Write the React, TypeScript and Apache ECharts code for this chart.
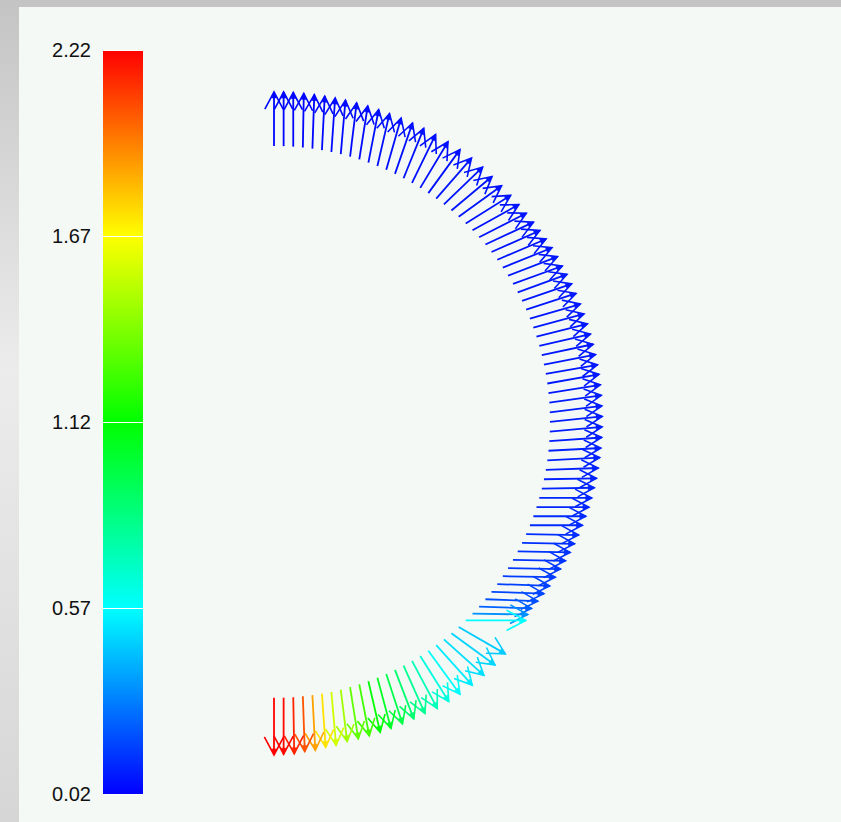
import React, { useEffect, useRef } from "react";
import * as echarts from "echarts";

// ---- colour scale (colour bar) ----
const SCALE_MIN = 0.02;
const SCALE_MAX = 2.22;
const SCALE_STEP = 0.55;
const TICK_LABELS = ["0.02", "0.57", "1.12", "1.67", "2.22"];
const COLOR_STOPS = ["#0000ff", "#00ffff", "#00ff00", "#ffff00", "#ff0000"];

// ---- vector samples along the semicircle (tail radius = 1) ----
const POSITION_DEG = [
  90, 88, 86, 84, 82, 80, 78, 76, 74, 72,
  70, 68, 66, 64, 62, 60, 58, 56, 54, 52,
  50, 48, 46, 44, 42, 40, 38, 36, 34, 32,
  30, 28, 26, 24, 22, 20, 18, 16, 14, 12,
  10, 8, 6, 4, 2, 0, -2, -4, -6, -8,
  -10, -12, -14, -16, -18, -20, -22, -24, -26, -28,
  -30, -32, -34, -36, -38, -40, -42, -44, -46, -48,
  -50, -52, -54, -56, -58, -60, -62, -64, -66, -68,
  -70, -72, -74, -76, -78, -80, -82, -84, -86, -88,
  -90,
];

const DIRECTION_DEG = [
  90, 90, 90, 89, 88, 87, 86, 85, 83, 81,
  79, 77, 74, 71, 68, 64, 59, 54, 49, 44,
  40, 36, 32, 29, 27, 25, 24, 23, 22, 21,
  20, 20, 19, 18, 16, 15, 14, 13, 12, 11,
  10, 10, 9, 8, 7, 6, 5, 4, 3, 3,
  2, 1, 1, 0, 0, 0, 0, -1, -1, -1,
  -1, -1, -1, -2, -2, -2, -2, -1, 0, -30,
  -36, -42, -48, -54, -58, -62, -66, -69, -72, -75,
  -77, -79, -81, -83, -85, -86, -87, -88, -89, -90,
  -90,
];

const ARROW_LENGTH = [
  0.196, 0.196, 0.196, 0.196, 0.196, 0.196, 0.196, 0.196, 0.196, 0.196,
  0.195, 0.195, 0.195, 0.195, 0.195, 0.195, 0.195, 0.195, 0.195, 0.195,
  0.192, 0.192, 0.192, 0.192, 0.192, 0.192, 0.192, 0.192, 0.192, 0.192,
  0.19, 0.19, 0.19, 0.19, 0.19, 0.19, 0.19, 0.19, 0.19, 0.19,
  0.19, 0.19, 0.19, 0.19, 0.19, 0.19, 0.19, 0.19, 0.19, 0.19,
  0.19, 0.19, 0.19, 0.19, 0.19, 0.19, 0.19, 0.19, 0.19, 0.19,
  0.19, 0.19, 0.19, 0.19, 0.19, 0.19, 0.19, 0.2, 0.217, 0.195,
  0.195, 0.195, 0.195, 0.195, 0.195, 0.195, 0.19, 0.19, 0.19, 0.19,
  0.19, 0.19, 0.19, 0.19, 0.195, 0.195, 0.2, 0.2, 0.205, 0.205,
  0.207,
];

const MAGNITUDE = [
  0.03, 0.03, 0.03, 0.03, 0.03, 0.04, 0.04, 0.04, 0.04, 0.04,
  0.05, 0.05, 0.05, 0.05, 0.05, 0.05, 0.05, 0.05, 0.06, 0.06,
  0.06, 0.06, 0.06, 0.06, 0.06, 0.06, 0.06, 0.06, 0.07, 0.07,
  0.07, 0.07, 0.07, 0.07, 0.07, 0.07, 0.07, 0.07, 0.07, 0.07,
  0.07, 0.07, 0.07, 0.08, 0.08, 0.08, 0.08, 0.08, 0.09, 0.09,
  0.09, 0.09, 0.1, 0.1, 0.1, 0.11, 0.11, 0.12, 0.12, 0.13,
  0.13, 0.14, 0.15, 0.16, 0.17, 0.19, 0.23, 0.33, 0.57, 0.46,
  0.48, 0.5, 0.53, 0.58, 0.64, 0.72, 0.8, 0.88, 0.96, 1.04,
  1.12, 1.26, 1.33, 1.47, 1.57, 1.73, 1.87, 2.04, 2.14, 2.2,
  2.22,
];

// ---- layout constants ----
const W = 841;
const H = 822;
const CX = 274; // pixel of data origin
const CY = 422;
const S = 276; // pixels per data unit
const X_MIN = -0.9;
const X_MAX = 2.0;
const Y_MIN = -1.45;
const Y_MAX = 1.45;

const rad = (d: number) => (d * Math.PI) / 180;

const vectorData = POSITION_DEG.map((p, i) => [
  Math.cos(rad(p)),
  Math.sin(rad(p)),
  ARROW_LENGTH[i] * Math.cos(rad(DIRECTION_DEG[i])),
  ARROW_LENGTH[i] * Math.sin(rad(DIRECTION_DEG[i])),
  MAGNITUDE[i],
]);

const gradientStops = () =>
  COLOR_STOPS.map((c, i) => ({ offset: i / (COLOR_STOPS.length - 1), color: c }));

const renderBar = (_params: any, api: any) => {
  const p0 = api.coord([api.value(0), api.value(1)]);
  const p1 = api.coord([api.value(2), api.value(3)]);
  return {
    type: "rect",
    shape: { x: p0[0], y: p1[1], width: p1[0] - p0[0], height: p0[1] - p1[1] },
    style: { fill: new echarts.graphic.LinearGradient(0, 1, 0, 0, gradientStops()) },
  };
};

const renderArrow = (_params: any, api: any) => {
  const x = api.value(0);
  const y = api.value(1);
  const u = api.value(2);
  const v = api.value(3);
  const tail = api.coord([x, y]);
  const tip = api.coord([x + u, y + v]);
  const dx = tip[0] - tail[0];
  const dy = tip[1] - tail[1];
  const len = Math.hypot(dx, dy) || 1;
  const ex = dx / len;
  const ey = dy / len;
  const wing = len * 0.36;
  const a = rad(28);
  const ca = Math.cos(a);
  const sa = Math.sin(a);
  const b1x = -(ex * ca - ey * sa);
  const b1y = -(ex * sa + ey * ca);
  const b2x = -(ex * ca + ey * sa);
  const b2y = -(-ex * sa + ey * ca);
  const w1 = [tip[0] + b1x * wing, tip[1] + b1y * wing];
  const w2 = [tip[0] + b2x * wing, tip[1] + b2y * wing];
  const color = api.visual("color");
  const hl = 6;
  const hw = 2.5;
  const bx = tip[0] - ex * hl;
  const by = tip[1] - ey * hl;
  const tri = [
    [tip[0], tip[1]],
    [bx - ey * hw, by + ex * hw],
    [bx + ey * hw, by - ex * hw],
  ];
  return {
    type: "group",
    children: [
      {
        type: "line",
        shape: { x1: tail[0], y1: tail[1], x2: tip[0], y2: tip[1] },
        style: { stroke: color, lineWidth: 1.8 },
      },
      {
        type: "polyline",
        shape: { points: [w1, [tip[0], tip[1]], w2] },
        style: { stroke: color, fill: "none", lineWidth: 1.6 },
      },
      {
        type: "polygon",
        shape: { points: tri },
        style: { fill: color, stroke: color, lineWidth: 0.5 },
      },
    ],
  };
};

export default function App() {
  const ref = useRef<HTMLDivElement>(null);

  useEffect(() => {
    if (!ref.current) return;
    const chart = echarts.init(ref.current, null, { renderer: "svg" });
    const option: any = {
      animation: false,
      backgroundColor: "#f5f9f6",
      graphic: [
        {
          type: "rect",
          shape: { x: 0, y: 0, width: W, height: 7 },
          style: { fill: "#c4c4c4" },
          silent: true,
        },
        {
          type: "rect",
          shape: { x: 0, y: 0, width: 19, height: H },
          style: {
            fill: new echarts.graphic.LinearGradient(0, 0, 0, 1, [
              { offset: 0, color: "#c4c4c4" },
              { offset: 0.45, color: "#ececec" },
              { offset: 1, color: "#d6d6d6" },
            ]),
          },
          silent: true,
        },
      ],
      grid: [
        { left: 103, top: 50, width: 40, height: 744 },
        {
          left: CX + X_MIN * S,
          top: CY - Y_MAX * S,
          width: (X_MAX - X_MIN) * S,
          height: (Y_MAX - Y_MIN) * S,
        },
      ],
      xAxis: [
        { type: "value", gridIndex: 0, min: 0, max: 1, show: false },
        { type: "value", gridIndex: 1, min: X_MIN, max: X_MAX, show: false },
      ],
      yAxis: [
        {
          type: "value",
          gridIndex: 0,
          min: SCALE_MIN,
          max: SCALE_MAX,
          interval: SCALE_STEP,
          z: 10,
          axisLine: { show: false },
          splitLine: { show: false },
          axisTick: {
            show: true,
            inside: true,
            length: 40,
            lineStyle: { color: "#ffffff", width: 1 },
          },
          axisLabel: {
            margin: 12,
            color: "#111111",
            fontSize: 20,
            fontFamily: "Liberation Sans, Arial, sans-serif",
            formatter: (val: number, idx: number) =>
              TICK_LABELS[idx] !== undefined ? TICK_LABELS[idx] : val.toFixed(2),
          },
        },
        { type: "value", gridIndex: 1, min: Y_MIN, max: Y_MAX, show: false },
      ],
      visualMap: {
        show: false,
        type: "continuous",
        seriesIndex: 1,
        dimension: 4,
        min: SCALE_MIN,
        max: SCALE_MAX,
        inRange: { color: COLOR_STOPS },
      },
      series: [
        {
          type: "custom",
          xAxisIndex: 0,
          yAxisIndex: 0,
          silent: true,
          renderItem: renderBar,
          data: [[0, SCALE_MIN, 1, SCALE_MAX]],
          encode: { x: [0, 2], y: [1, 3] },
        },
        {
          type: "custom",
          xAxisIndex: 1,
          yAxisIndex: 1,
          silent: true,
          renderItem: renderArrow,
          dimensions: ["x", "y", "u", "v", "mag"],
          encode: { x: 0, y: 1 },
          data: vectorData,
        },
      ],
    };
    chart.setOption(option);
    return () => chart.dispose();
  }, []);

  return (
    <div
      ref={ref}
      style={{ position: "absolute", left: 0, top: 0, width: W, height: H }}
    />
  );
}
